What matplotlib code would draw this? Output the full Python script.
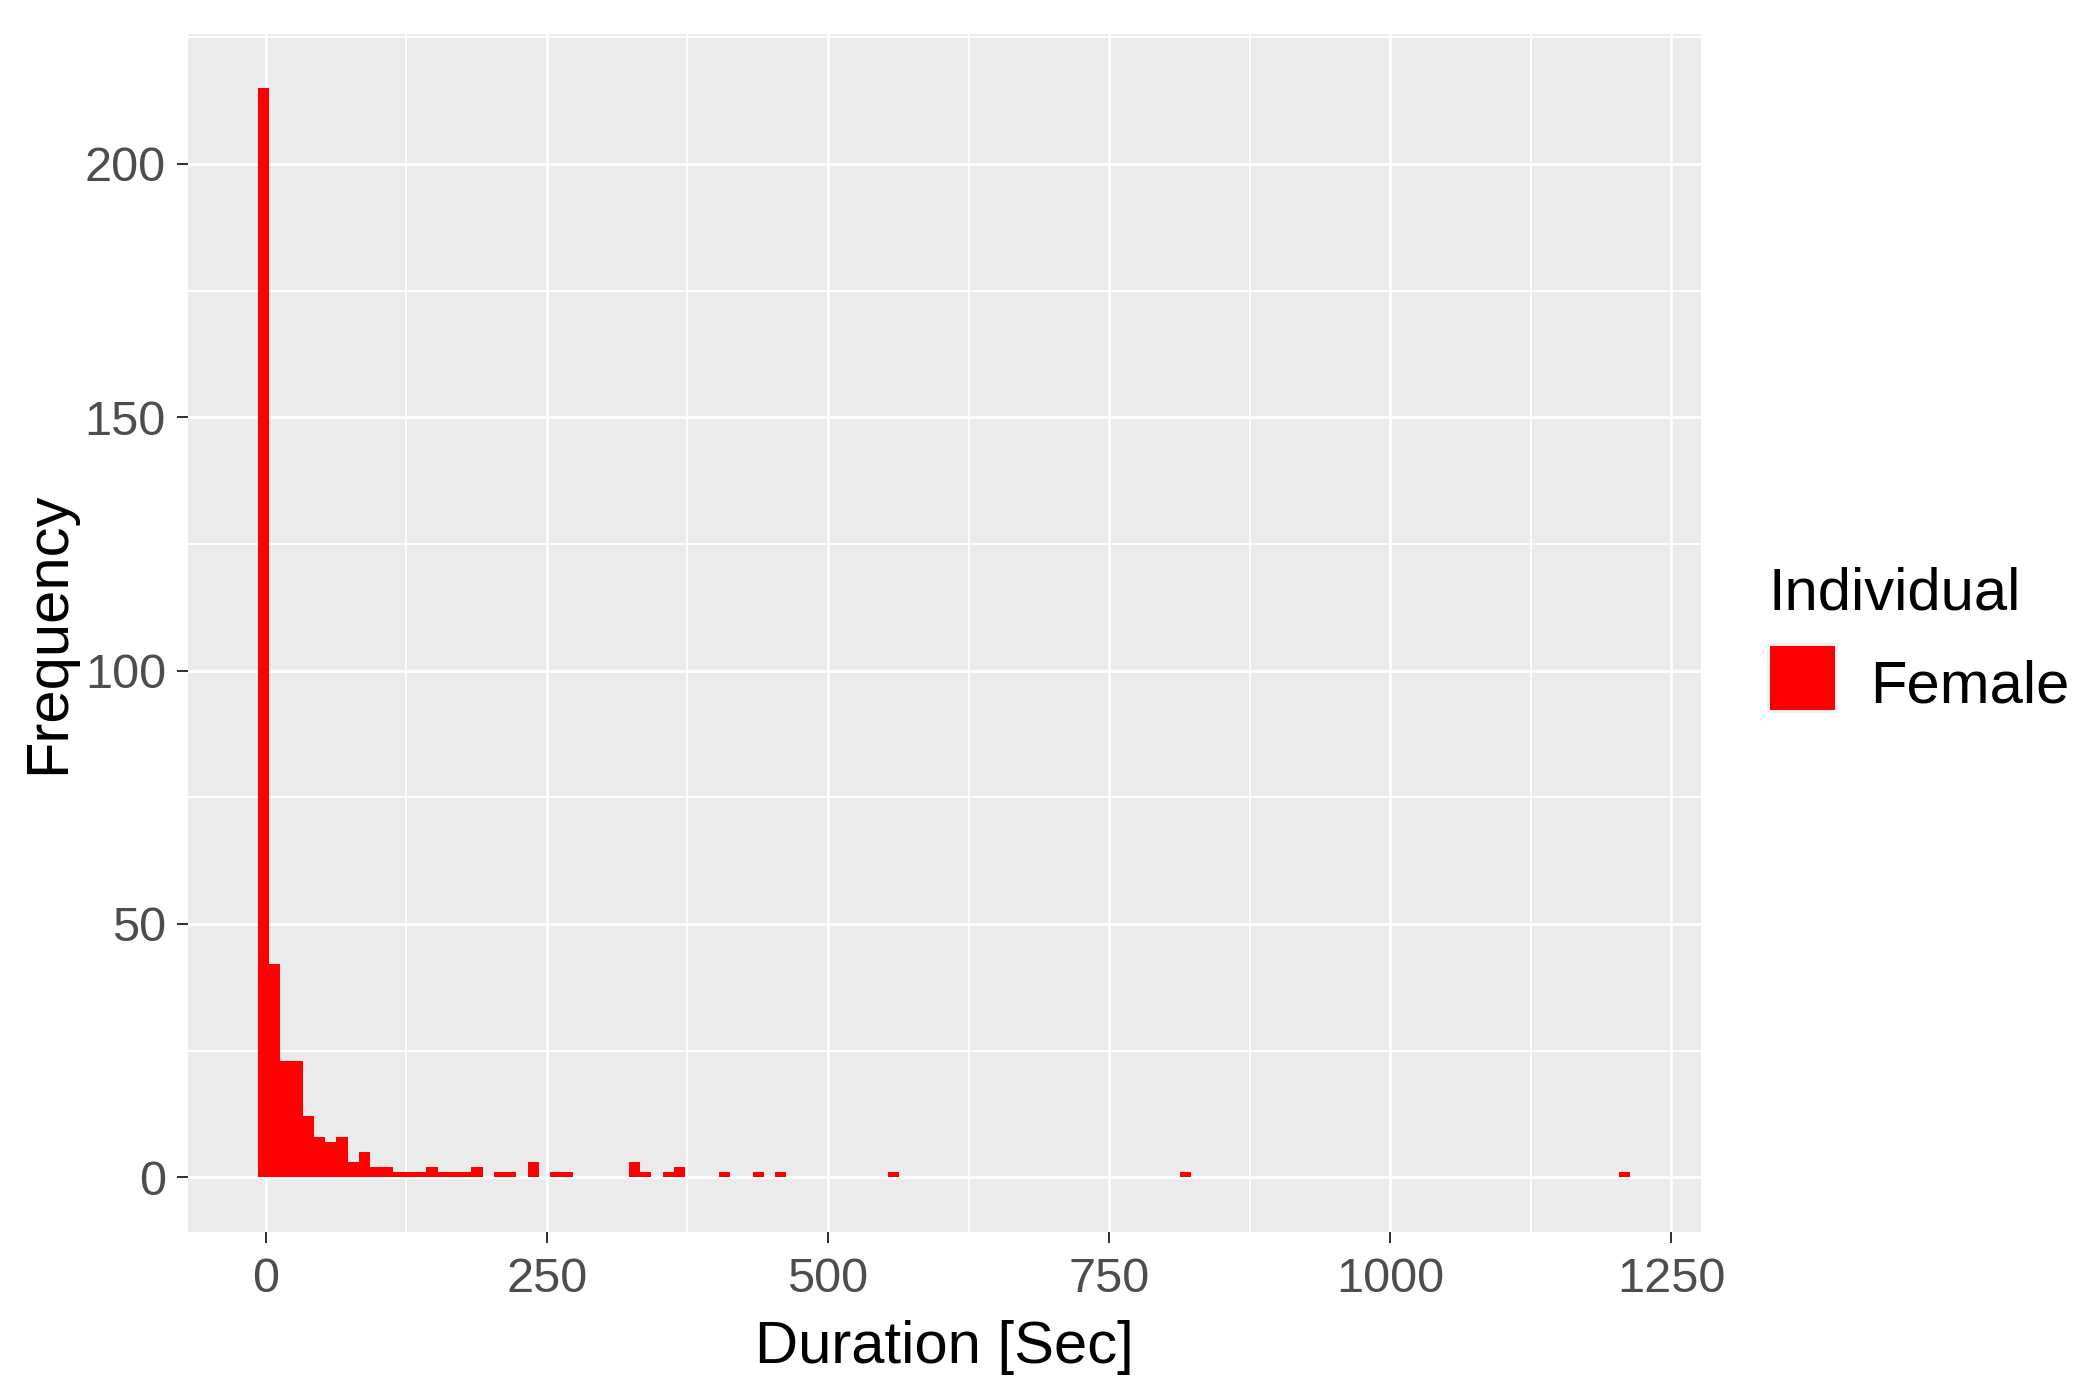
import numpy as np
import matplotlib
matplotlib.use("Agg")
import matplotlib.pyplot as plt
from matplotlib.patches import Rectangle
from matplotlib.ticker import MultipleLocator

# ---- data (histogram of durations, bin width 10 s) ----
bin_width = 10
bin_lefts = [-7, 3, 13, 23, 33, 43, 53, 63, 73, 83,
             93, 103, 113, 123, 133, 143, 153, 163, 173, 183,
             203, 213, 233, 253, 263,
             323, 333, 353, 363,
             403, 433, 453,
             553, 813, 1203]
counts = [215, 42, 23, 23, 12, 8, 7, 8, 3, 5,
          2, 2, 1, 1, 1, 2, 1, 1, 1, 2,
          1, 1, 3, 1, 1,
          3, 1, 1, 2,
          1, 1, 1,
          1, 1, 1]
series_name = "Female"
legend_title = "Individual"
x_ticks = [0, 250, 500, 750, 1000, 1250]
y_ticks = [0, 50, 100, 150, 200]

plt.rcParams['font.family'] = ['Liberation Sans', 'DejaVu Sans']

W, H = 2079, 1395
fig = plt.figure(figsize=(W / 100, H / 100), dpi=100)
ax = fig.add_axes([188 / W, 1 - 1231.7 / H, (1700.7 - 188) / W, (1231.7 - 33.5) / H])

ax.set_facecolor('#EBEBEB')
for s in ax.spines.values():
    s.set_visible(False)

ax.bar(bin_lefts, counts, width=bin_width, align='edge', color='#FF0000',
       linewidth=0, zorder=3, label=series_name)

ax.set_xlim(-69, 1276)
ax.set_ylim(-10.75, 225.75)
ax.set_xticks(x_ticks)
ax.set_yticks(y_ticks)
ax.xaxis.set_minor_locator(MultipleLocator(125))
ax.yaxis.set_minor_locator(MultipleLocator(25))

ax.grid(which='major', color='white', linewidth=1.95, zorder=1)
ax.grid(which='minor', color='white', linewidth=1.35, zorder=1)
ax.set_axisbelow(True)

ax.tick_params(axis='both', which='major', length=7.9, width=1.45, color='#333333',
               labelsize=35, labelcolor='#4D4D4D')
ax.tick_params(axis='x', which='major', pad=10)
ax.tick_params(axis='y', which='major', pad=8)
ax.tick_params(which='minor', length=0)

fig.text((188 + 1700.7) / 2 / W, 1 - 1362.7 / H, 'Duration [Sec]', ha='center',
         va='baseline', fontsize=43, color='black')
fig.text(48.4 / W, 1 - 632.6 / H, 'Frequency', ha='center', va='center',
         rotation=90, fontsize=43, color='black')

# ---- legend (ggplot style, placed to the right of the panel) ----
fig.text(1769 / W, 1 - 609 / H, legend_title, ha='left', va='baseline',
         fontsize=43, color='black')
fig.add_artist(Rectangle((1767 / W, 1 - 713 / H), 71 / W, 70 / H,
                         transform=fig.transFigure, facecolor='#F2F2F2',
                         edgecolor='none'))
fig.add_artist(Rectangle((1770 / W, 1 - 710 / H), 65 / W, 64 / H,
                         transform=fig.transFigure, facecolor='#FF0000',
                         edgecolor='none'))
fig.text(1870 / W, 1 - 702.7 / H, series_name, ha='left', va='baseline',
         fontsize=43, color='black')

fig.savefig('out.png', dpi=100)
